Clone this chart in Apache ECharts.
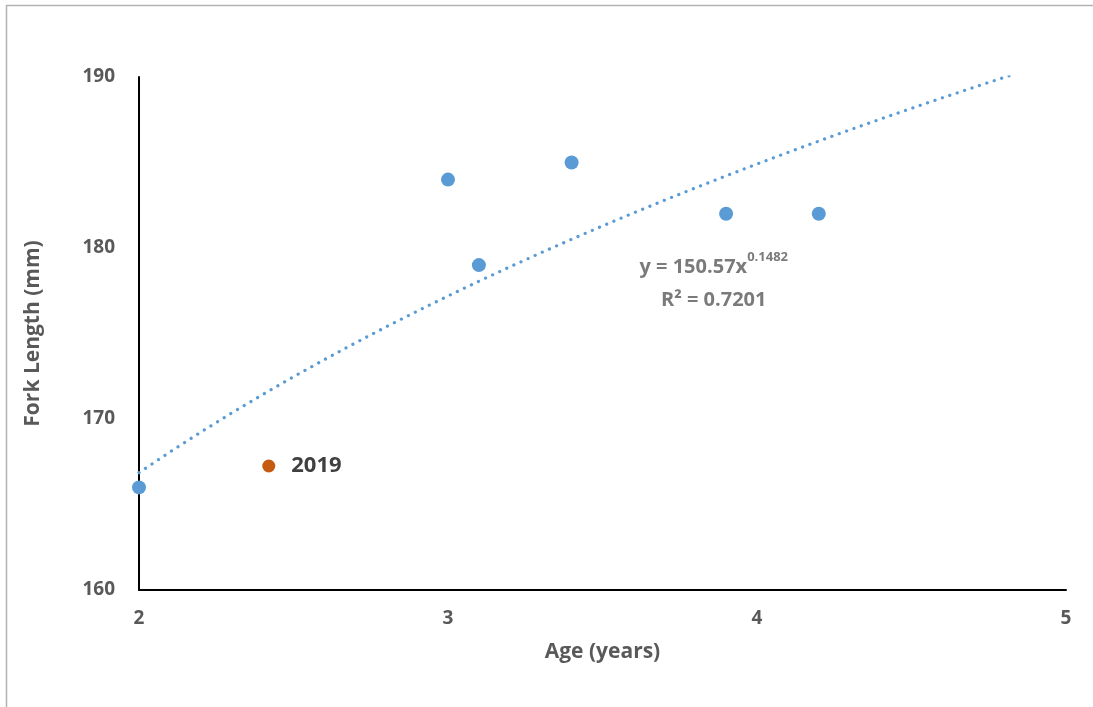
<!DOCTYPE html>
<html>
<head>
<meta charset="utf-8">
<script src="https://cdn.jsdelivr.net/npm/echarts@6/dist/echarts.min.js"></script>
<style>
  html, body { margin: 0; padding: 0; background: #fff; }
  #chart { width: 1093px; height: 707px; }
</style>
</head>
<body>
<div id="chart"></div>
<script>
// Age (years) and fork length (mm) of the sampled fish
const ages = [2, 3, 3.1, 3.4, 3.9, 4.2];
const forkLengths = [166, 184, 179, 185, 182, 182];

// The 2019 sample, plotted separately
const age2019 = [2.42];
const length2019 = [167.25];
const label2019 = '2019';

// Power trendline y = a * x^b fitted to the samples
const trendA = 150.57;
const trendB = 0.1482;
const trendR2 = '0.7201';
const trendXs = [2, 2.1, 2.2, 2.3, 2.4, 2.5, 2.6, 2.7, 2.8, 2.9, 3, 3.1, 3.2, 3.3, 3.4, 3.5,
  3.6, 3.7, 3.8, 3.9, 4, 4.1, 4.2, 4.3, 4.4, 4.5, 4.6, 4.7, 4.8, 4.9, 5];

// Axis ranges and ticks
const xTicks = [2, 3, 4, 5];
const yTicks = [160, 170, 180, 190];

const font = '"Open Sans", sans-serif';
const grey = '#595959';

const chart = echarts.init(document.getElementById('chart'));

chart.setOption({
  animation: false,
  backgroundColor: '#ffffff',
  textStyle: { fontFamily: font },
  grid: { left: 139, right: 27, top: 77, bottom: 117 },
  xAxis: {
    type: 'value',
    min: xTicks[0],
    max: xTicks[xTicks.length - 1],
    interval: 1,
    name: 'Age (years)',
    nameLocation: 'middle',
    nameGap: 52,
    nameTextStyle: { color: grey, fontSize: 21, fontWeight: 'bold', fontFamily: font },
    axisLine: { lineStyle: { color: '#000', width: 2 } },
    axisTick: { show: false },
    splitLine: { show: false },
    axisLabel: { color: grey, fontSize: 19, fontWeight: 'bold', margin: 19, fontFamily: font }
  },
  yAxis: {
    type: 'value',
    min: yTicks[0],
    max: yTicks[yTicks.length - 1],
    interval: 10,
    name: 'Fork Length (mm)',
    nameLocation: 'middle',
    nameGap: 95,
    nameTextStyle: { color: grey, fontSize: 21, fontWeight: 'bold', fontFamily: font },
    axisLine: { show: true, lineStyle: { color: '#000', width: 2 } },
    axisTick: { show: false },
    splitLine: { show: false },
    axisLabel: { color: grey, fontSize: 19, fontWeight: 'bold', margin: 24, fontFamily: font }
  },
  series: [
    {
      name: 'Trendline',
      type: 'line',
      data: trendXs.map(x => [x, trendA * Math.pow(x, trendB)]),
      smooth: false,
      showSymbol: false,
      clip: true,
      lineStyle: { color: '#5B9BD5', width: 3.2, type: [0.1, 7.7], cap: 'round' },
      z: 2
    },
    {
      name: 'Fork length',
      type: 'scatter',
      data: ages.map((a, i) => [a, forkLengths[i]]),
      symbolSize: 14,
      itemStyle: { color: '#5B9BD5', opacity: 1 },
      z: 3
    },
    {
      name: '2019',
      type: 'scatter',
      data: age2019.map((a, i) => [a, length2019[i]]),
      symbolSize: 13,
      itemStyle: { color: '#C55A11', opacity: 1 },
      label: {
        show: true,
        position: 'right',
        distance: 16,
        formatter: label2019,
        color: '#404040',
        fontSize: 22,
        fontWeight: 'bold',
        fontFamily: font
      },
      z: 3
    },
    {
      name: 'Equation',
      type: 'scatter',
      data: [[3.86, 177.9]],
      symbolSize: 0,
      silent: true,
      label: {
        show: true,
        position: 'inside',
        formatter: '{b|y = ' + trendA + 'x}{s|' + trendB + '}\n{b|R² = ' + trendR2 + '}',
        align: 'center',
        rich: {
          b: { color: grey, fontSize: 20, fontWeight: 'bold', fontFamily: font, lineHeight: 33 },
          s: { color: grey, fontSize: 13, fontWeight: 'bold', fontFamily: font, verticalAlign: 'top', lineHeight: 33, padding: [0, 0, 10, 0] }
        }
      }
    }
  ],
  graphic: [
    { type: 'line', shape: { x1: 6.5, y1: 5, x2: 6.5, y2: 707 }, style: { stroke: '#b3b3b3', lineWidth: 1.5 } },
    { type: 'line', shape: { x1: 6, y1: 5.5, x2: 1093, y2: 5.5 }, style: { stroke: '#b3b3b3', lineWidth: 1.5 } }
  ]
});
</script>
</body>
</html>
